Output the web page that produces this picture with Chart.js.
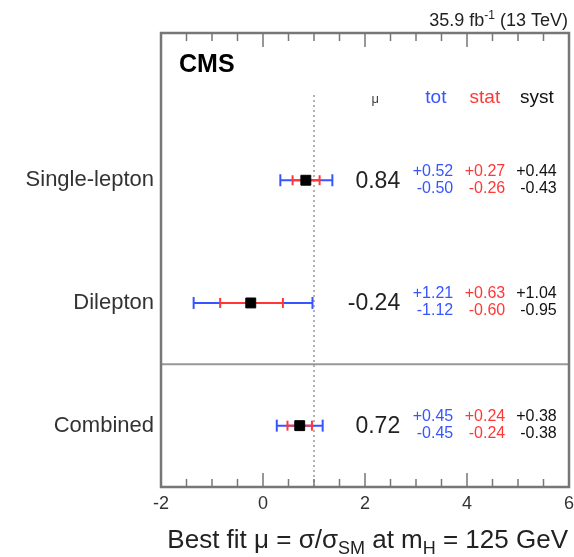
<!DOCTYPE html>
<html>
<head>
<meta charset="utf-8">
<script src="https://cdn.jsdelivr.net/npm/chart.js@4.4.0/dist/chart.umd.min.js"></script>
<style>
html, body { margin: 0; padding: 0; background: #fff; }
#contenedor { width: 574px; height: 557px; }
</style>
</head>
<body>
<div id="contenedor"><canvas id="grafico_mu" width="574" height="557"></canvas></div>
<script>
// datos
var categorias = ["Single-lepton", "Dilepton", "Combined"];
var posiciones = [5, 3, 1];
var mu = [0.84, -0.24, 0.72];
var tot_arriba = [0.52, 1.21, 0.45];
var tot_abajo = [0.50, 1.12, 0.45];
var stat_arriba = [0.27, 0.63, 0.24];
var stat_abajo = [0.26, 0.60, 0.24];
var syst_arriba = [0.44, 1.04, 0.38];
var syst_abajo = [0.43, 0.95, 0.38];
var etiquetas_x = [-2, 0, 2, 4, 6];
var valor_sm = 1;
var separador_y = 2;

var azul = "rgb(55,85,255)";
var rojo = "rgb(255,55,55)";
var fuente = "'Liberation Sans', Arial, Helvetica, sans-serif";
var paso_menor = 0.5;

document.addEventListener("DOMContentLoaded", function () {
    var conjuntos = [];
    for (var i = 0; i < categorias.length; i++) {
        conjuntos.push({
            data: [{ x: mu[i] - tot_abajo[i], y: posiciones[i] }, { x: mu[i] + tot_arriba[i], y: posiciones[i] }],
            showLine: true, borderColor: azul, borderWidth: 2,
            pointStyle: "line", rotation: 90, pointRadius: 6,
            pointBorderColor: azul, pointBorderWidth: 2, order: 2
        });
        conjuntos.push({
            data: [{ x: mu[i] - stat_abajo[i], y: posiciones[i] }, { x: mu[i] + stat_arriba[i], y: posiciones[i] }],
            showLine: true, borderColor: rojo, borderWidth: 2,
            pointStyle: "line", rotation: 90, pointRadius: 5,
            pointBorderColor: rojo, pointBorderWidth: 2, order: 1
        });
    }
    conjuntos.push({
        data: mu.map(function (m, k) { return { x: m, y: posiciones[k] }; }),
        pointStyle: "rect", pointRadius: 7, backgroundColor: "#000", borderColor: "#000", order: 0
    });
    // linea de referencia mu = 1 y separador
    conjuntos.push({
        data: [{ x: valor_sm, y: 0 }, { x: valor_sm, y: 6.39 }],
        showLine: true, borderColor: "#999", borderWidth: 1.5, borderDash: [2, 3],
        pointRadius: 0, order: 3
    });
    conjuntos.push({
        data: [{ x: etiquetas_x[0], y: separador_y }, { x: etiquetas_x[etiquetas_x.length - 1], y: separador_y }],
        showLine: true, borderColor: "#999", borderWidth: 2, pointRadius: 0, order: 3
    });

    var plugin_textos = {
        id: "textos_cms",
        afterDraw: function (chart) {
            var ctx = chart.ctx, ca = chart.chartArea, ex = chart.scales.x, ey = chart.scales.y;
            ctx.save();
            // marco
            ctx.strokeStyle = "#777";
            ctx.lineWidth = 2.5;
            ctx.strokeRect(ca.left, ca.top, ca.right - ca.left, ca.bottom - ca.top);
            // marcas hacia dentro
            ctx.lineWidth = 1.5;
            for (var v = ex.min; v <= ex.max + 1e-9; v += paso_menor) {
                var px = ex.getPixelForValue(v);
                var largo = Math.abs(v % 2) < 1e-9 ? 14 : 8;
                ctx.beginPath();
                ctx.moveTo(px, ca.bottom); ctx.lineTo(px, ca.bottom - largo);
                ctx.moveTo(px, ca.top); ctx.lineTo(px, ca.top + largo);
                ctx.stroke();
            }

            ctx.fillStyle = "#000";
            ctx.textBaseline = "alphabetic";
            ctx.font = "bold 25px " + fuente;
            ctx.textAlign = "left";
            ctx.fillText("CMS", ca.left + 18, 72);

            // luminosidad
            dibujar_piezas(ctx, [["35.9 fb", 0], ["-1", -1], [" (13 TeV)", 0]], 568, 26, 18, 12, 7, "#222");
            // titulo eje x
            dibujar_piezas(ctx, [["Best fit \u03bc = \u03c3/\u03c3", 0], ["SM", 1], [" at m", 0], ["H", 1], [" = 125 GeV", 0]], 568, 548, 26, 18, 6, "#222");

            // cabeceras
            ctx.textBaseline = "middle";
            ctx.textAlign = "center";
            ctx.font = "13px " + fuente;
            ctx.fillStyle = "#444";
            ctx.fillText("\u03bc", ex.getPixelForValue(2.2), 99);
            ctx.font = "19px " + fuente;
            ctx.fillStyle = azul; ctx.fillText("tot", ex.getPixelForValue(3.39), 98);
            ctx.fillStyle = rojo; ctx.fillText("stat", ex.getPixelForValue(4.35), 98);
            ctx.fillStyle = "#111"; ctx.fillText("syst", ex.getPixelForValue(5.37), 98);

            // valores
            ctx.textAlign = "right";
            for (var i = 0; i < categorias.length; i++) {
                var py = ey.getPixelForValue(posiciones[i]);
                ctx.font = "23px " + fuente;
                ctx.fillStyle = "#222";
                ctx.fillText(mu[i].toFixed(2), ex.getPixelForValue(2.69), py + 1);
                ctx.font = "16px " + fuente;
                var cols = [[tot_arriba, tot_abajo, azul, 3.73], [stat_arriba, stat_abajo, rojo, 4.75], [syst_arriba, syst_abajo, "#111", 5.76]];
                for (var c = 0; c < cols.length; c++) {
                    ctx.fillStyle = cols[c][2];
                    var xc = ex.getPixelForValue(cols[c][3]);
                    ctx.fillText("+" + cols[c][0][i].toFixed(2), xc, py - 9);
                    ctx.fillText("-" + cols[c][1][i].toFixed(2), xc, py + 8);
                }
            }
            ctx.restore();
        }
    };

    function dibujar_piezas(ctx, piezas, derecha, base, tam, tam_sub, desp, color) {
        var total = 0;
        piezas.forEach(function (p) {
            ctx.font = (p[1] ? tam_sub : tam) + "px " + fuente;
            total += ctx.measureText(p[0]).width;
        });
        var x = derecha - total;
        ctx.fillStyle = color;
        ctx.textAlign = "left";
        ctx.textBaseline = "alphabetic";
        piezas.forEach(function (p) {
            ctx.font = (p[1] ? tam_sub : tam) + "px " + fuente;
            ctx.fillText(p[0], x, base + p[1] * desp);
            x += ctx.measureText(p[0]).width;
        });
    }

    var ctx = document.getElementById("grafico_mu").getContext("2d");
    var myChart = new Chart(ctx, {
        type: "scatter",
        data: { datasets: conjuntos },
        plugins: [plugin_textos],
        options: {
            responsive: false,
            animation: false,
            layout: { autoPadding: false, padding: { left: 0, right: 5, top: 33, bottom: 0 } },
            plugins: { legend: { display: false }, tooltip: { enabled: false } },
            scales: {
                x: {
                    type: "linear",
                    min: etiquetas_x[0],
                    max: etiquetas_x[etiquetas_x.length - 1],
                    afterBuildTicks: function (eje) {
                        eje.ticks = etiquetas_x.map(function (v) { return { value: v }; });
                    },
                    ticks: {
                        font: { size: 18, family: fuente }, color: "#333", padding: 6,
                        maxRotation: 0,
                        callback: function (v) { return String(v); }
                    },
                    grid: { display: false, drawTicks: false },
                    border: { display: false },
                    afterFit: function (eje) {
                        eje.height = 70;
                        eje.paddingLeft = 0;
                        eje.paddingRight = 0;
                    }
                },
                y: {
                    type: "linear",
                    min: 0,
                    max: 7.4,
                    afterBuildTicks: function (eje) {
                        eje.ticks = posiciones.map(function (p) { return { value: p }; });
                    },
                    ticks: {
                        font: { size: 22, family: fuente }, color: "#333", padding: 7,
                        callback: function (v) {
                            var k = posiciones.indexOf(v);
                            return k >= 0 ? categorias[k] : "";
                        }
                    },
                    grid: { display: false, drawTicks: false },
                    border: { display: false },
                    afterFit: function (eje) {
                        eje.width = 161;
                        eje.paddingTop = 0;
                        eje.paddingBottom = 0;
                    }
                }
            }
        }
    });
});
</script>
</body>
</html>
